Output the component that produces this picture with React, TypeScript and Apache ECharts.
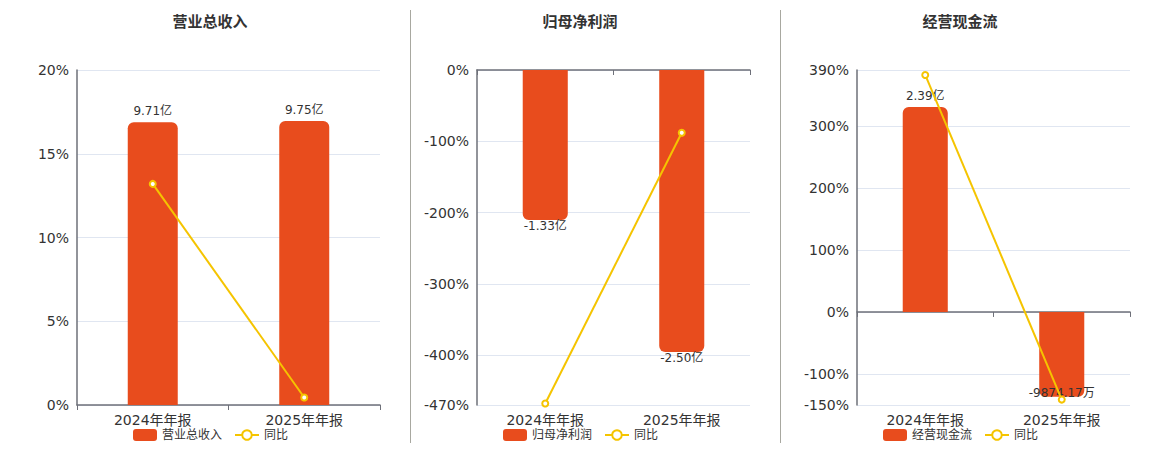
import React, { useEffect, useRef } from 'react'
import * as echarts from 'echarts'

const categories = ['2024年年报', '2025年年报']

const panelTitles = ['营业总收入', '归母净利润', '经营现金流']

// bar values in 亿
const revenue = [9.71, 9.75]
const netProfit = [-1.33, -2.5]
const cashFlow = [2.39, -0.987417]

const revenueLabels = ['9.71亿', '9.75亿']
const netProfitLabels = ['-1.33亿', '-2.50亿']
const cashFlowLabels = ['2.39亿', '-9874.17万']

// 同比 %
const revenueYoy = [13.2, 0.45]
const netProfitYoy = [-468, -88]
const cashFlowYoy = [382, -141.3]

// percent axis ranges
const pctMin = [0, -470, -150]
const pctMax = [20, 0, 390]
// hidden bar axis ranges, chosen so zero lines up
const barMin = [0, -2.97, -1.084]
const barMax = [11.5, 0, 2.822]

const BAR_COLOR = '#E84C1D'
const LINE_COLOR = '#F5C400'
const FONT = "'DejaVu Sans', 'Noto Sans CJK SC', sans-serif"

const gridLefts = [77, 477, 857]
const gridWidths = [303, 273, 273]
const titleCenters = [210, 580, 960]
const legendLefts = [133, 503, 883]

const App: React.FC = () => {
  const chartRef = useRef<HTMLDivElement>(null)

  useEffect(() => {
    document.body.style.margin = '0'
    if (!chartRef.current) return
    const chart = echarts.init(chartRef.current, null, { renderer: 'svg' })

    const barData = [revenue, netProfit, cashFlow]
    const barLabels = [revenueLabels, netProfitLabels, cashFlowLabels]
    const yoyData = [revenueYoy, netProfitYoy, cashFlowYoy]

    const grid: any[] = []
    const xAxis: any[] = []
    const yAxis: any[] = []
    const series: any[] = []
    const legend: any[] = []
    const graphic: any[] = []

    for (let p = 0; p < 3; p++) {
      grid.push({ left: gridLefts[p], width: gridWidths[p], top: 70, height: 335 })

      // percent axis (visible)
      yAxis.push({
        type: 'value',
        gridIndex: p,
        min: pctMin[p],
        max: pctMax[p],
        axisLine: { show: true, lineStyle: { color: '#6E7079', width: 1.5 } },
        axisTick: { show: false },
        axisLabel: { color: '#333', fontSize: 14, fontFamily: FONT, formatter: '{value}%' },
        splitLine: { lineStyle: { color: '#E0E6F1' } }
      })
      // bar axis (hidden)
      yAxis.push({
        type: 'value',
        gridIndex: p,
        min: barMin[p],
        max: barMax[p],
        show: false,
        splitLine: { show: false }
      })

      // axis line that sits on zero
      xAxis.push({
        type: 'category',
        gridIndex: p,
        data: categories,
        position: 'bottom',
        axisLine: { show: true, onZero: true, onZeroAxisIndex: p * 2, lineStyle: { color: '#6E7079', width: 1.5 } },
        axisTick: { show: true, length: 5, lineStyle: { color: '#6E7079' } },
        axisLabel: { show: false }
      })
      // category labels at the bottom
      xAxis.push({
        type: 'category',
        gridIndex: p,
        data: categories,
        position: 'bottom',
        axisLine: { show: false, onZero: false },
        axisTick: { show: false },
        axisLabel: { color: '#333', fontSize: 14, fontFamily: FONT, margin: 8 }
      })

      const labels = barLabels[p]
      series.push({
        type: 'bar',
        name: panelTitles[p],
        xAxisIndex: p * 2,
        yAxisIndex: p * 2 + 1,
        barWidth: '33%',
        itemStyle: { color: BAR_COLOR },
        data: barData[p].map((v, i) => {
          const neg = v < 0
          const lastCash = p === 2 && i === 1
          return {
            value: v,
            itemStyle: { borderRadius: neg ? [0, 0, 6, 6] : [6, 6, 0, 0] },
            label: {
              show: true,
              position: neg ? 'bottom' : 'top',
              distance: neg ? 0 : 5,
              offset: lastCash ? [0, -10] : [0, 0],
              formatter: labels[i],
              color: '#333',
              fontSize: 12,
              fontFamily: FONT
            }
          }
        })
      })
      series.push({
        type: 'line',
        name: '同比',
        xAxisIndex: p * 2,
        yAxisIndex: p * 2,
        symbol: 'emptyCircle',
        symbolSize: 6,
        lineStyle: { color: LINE_COLOR, width: 2 },
        itemStyle: { color: LINE_COLOR, borderWidth: 1.5 },
        data: yoyData[p],
        z: 5
      })

      legend.push({
        left: legendLefts[p],
        top: 429,
        padding: 0,
        itemWidth: 24,
        itemHeight: 12,
        itemGap: 12,
        data: [
          { name: panelTitles[p], icon: 'roundRect' },
          { name: '同比' }
        ],
        textStyle: { color: '#333', fontSize: 12, fontFamily: FONT }
      })

      graphic.push({
        type: 'text',
        x: titleCenters[p],
        y: 22,
        style: {
          text: panelTitles[p],
          fill: '#333',
          font: `bold 15px ${FONT}`,
          textAlign: 'center',
          textVerticalAlign: 'middle'
        }
      })
    }

    graphic.push(
      { type: 'line', shape: { x1: 410.5, y1: 10, x2: 410.5, y2: 443 }, style: { stroke: '#A8A8A0', lineWidth: 1 } },
      { type: 'line', shape: { x1: 780.5, y1: 10, x2: 780.5, y2: 443 }, style: { stroke: '#A8A8A0', lineWidth: 1 } }
    )

    chart.setOption({
      animation: false,
      backgroundColor: '#fff',
      textStyle: { fontFamily: FONT },
      grid,
      xAxis,
      yAxis,
      series,
      legend,
      graphic
    })

    return () => {
      chart.dispose()
    }
  }, [])

  return <div ref={chartRef} style={{ width: '1160px', height: '450px' }} />
}

export default App
